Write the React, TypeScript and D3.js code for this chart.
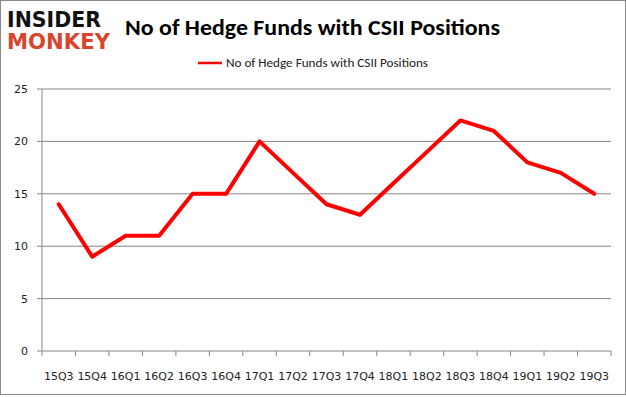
import React from 'react';
import * as d3 from 'd3';

const quarters = ['15Q3', '15Q4', '16Q1', '16Q2', '16Q3', '16Q4', '17Q1', '17Q2', '17Q3', '17Q4', '18Q1', '18Q2', '18Q3', '18Q4', '19Q1', '19Q2', '19Q3'];
const funds = [14, 9, 11, 11, 15, 15, 20, 17, 14, 13, 16, 19, 22, 21, 18, 17, 15];
const yTicks = [0, 5, 10, 15, 20, 25];
const seriesName = 'No of Hedge Funds with CSII Positions';

export default function App() {
  const W = 626;
  const H = 397;
  const margin = { top: 89, right: 15, bottom: 46, left: 42 };
  const width = W - margin.left - margin.right;
  const height = H - margin.top - margin.bottom;

  const x = d3.scaleBand().domain(quarters).range([0, width]);
  const y = d3.scaleLinear().domain([0, 25]).range([height, 0]);

  const line = d3.line<number>()
    .x((d, i) => (x(quarters[i]) as number) + x.bandwidth() / 2)
    .y(d => y(d));

  const font = 'Calibri, Carlito, "Open Sans", "DejaVu Sans", sans-serif';
  const tickFont = '"DejaVu Sans", Verdana, sans-serif';

  return (
    <svg width={W} height={H} style={{ position: 'absolute', left: 0, top: 0 }} fontFamily={font}>
      <rect x={0.5} y={0.5} width={W - 1} height={H - 3} fill="#fff" stroke="#888" />

      <g fontFamily='"DejaVu Sans", sans-serif' fontWeight="bold">
        <text x={7} y={27} fontSize={21} fill="#111" textLength={94} lengthAdjust="spacingAndGlyphs">INSIDER</text>
        <text x={7} y={49} fontSize={21} fill="#d9442c" textLength={103} lengthAdjust="spacingAndGlyphs">MONKEY</text>
      </g>

      <text x={125} y={35} fontSize={22} fontWeight="bold" fill="#000" textLength={375} lengthAdjust="spacingAndGlyphs">{seriesName}</text>

      <line x1={198} x2={222} y1={63} y2={63} stroke="red" strokeWidth={2.5} />
      <text x={226} y={67} fontSize={12} fill="#222" textLength={202} lengthAdjust="spacingAndGlyphs">{seriesName}</text>

      <g transform={`translate(${margin.left}, ${margin.top})`} fontFamily={tickFont}>
        {yTicks.map(t => (
          <g key={t}>
            {t > 0 && <line x1={0} x2={width} y1={y(t)} y2={y(t)} stroke="#868686" strokeWidth={1} />}
            <line x1={-5} x2={0} y1={y(t)} y2={y(t)} stroke="#868686" />
            <text x={-14} y={y(t) + 4} textAnchor="end" fontSize={11} fill="#222">{t}</text>
          </g>
        ))}
        <line x1={0} x2={0} y1={0} y2={height} stroke="#868686" />
        <line x1={0} x2={width} y1={height} y2={height} stroke="#868686" />
        {quarters.map(q => (
          <line key={'t' + q} x1={(x(q) as number)} x2={(x(q) as number)} y1={height} y2={height + 5} stroke="#868686" />
        ))}
        <line x1={width} x2={width} y1={height} y2={height + 5} stroke="#868686" />
        {quarters.map(q => (
          <text key={q} x={(x(q) as number) + x.bandwidth() / 2} y={height + 29} textAnchor="middle" fontSize={11} fill="#222">{q}</text>
        ))}
        <path d={line(funds) || ''} fill="none" stroke="red" strokeWidth={4} strokeLinejoin="round" strokeLinecap="round" />
      </g>
    </svg>
  );
}
